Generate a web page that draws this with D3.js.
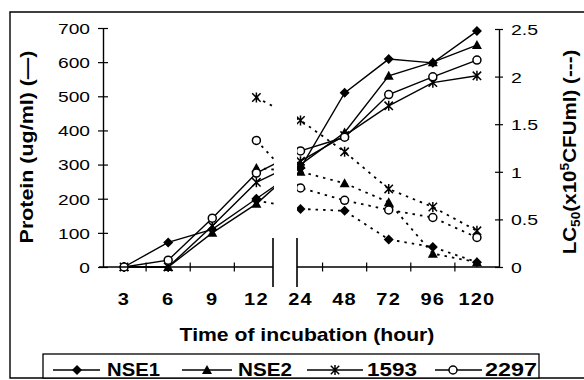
<!DOCTYPE html>
<html><head><meta charset="utf-8">
<script src="https://cdn.jsdelivr.net/npm/d3@7"></script>
<style>body{margin:0;background:#fff}svg{display:block}</style>
</head><body>
<script>
// ---- data ----
const categories = ["3","6","9","12","24","48","72","96","120"];
const seriesNames = ["NSE1","NSE2","1593","2297"];
const proteinNSE1 = [0, 72, 110, 200, 290, 510, 609, 598, 691];
const proteinNSE2 = [0, 0, 100, 185, 300, 394, 560, 600, 650];
const protein1593 = [0, 0, 120, 248, 310, 385, 472, 540, 560];
const protein2297 = [0, 20, 143, 275, 340, 380, 505, 557, 606];
const lc50NSE1 = [null, null, null, 0.70, 0.61, 0.59, 0.29, 0.21, 0.05];
const lc50NSE2 = [null, null, null, 1.04, 1.00, 0.88, 0.68, 0.14, 0.05];
const lc501593 = [null, null, null, 1.78, 1.54, 1.21, 0.82, 0.63, 0.38];
const lc502297 = [null, null, null, 1.33, 0.83, 0.70, 0.60, 0.52, 0.31];
const proteinTicks = [0, 100, 200, 300, 400, 500, 600, 700];
const lcTicks = [0, 0.5, 1, 1.5, 2, 2.5];
const lcTickLabels = ["0", "0.5", "1", "1.5", "2", "2.5"];

const proteinSeries = [proteinNSE1, proteinNSE2, protein1593, protein2297];
const lcSeries = [lc50NSE1, lc50NSE2, lc501593, lc502297];
const markerTypes = ["diamond", "triangle", "asterisk", "circle"];

// ---- layout ----
const W = 584, H = 380;
const FONT = "'Liberation Sans', Arial, sans-serif";
const svg = d3.select("body").append("svg").attr("width", W).attr("height", H);

const x = d3.scaleBand().domain(categories).range([102, 499]).padding(0);
const cx = c => x(c) + x.bandwidth() / 2;
const yL = d3.scaleLinear().domain([0, 700]).range([267, 28]);
const yR = d3.scaleLinear().domain([0, 2.5]).range([267, 29]);
const axisY = 267, leftX = 103, rightX = 499;
const breakL = 273, breakR = 297;

function marker(g, type, px, py) {
  const s = 5;
  if (type === "diamond") {
    g.append("path").attr("d", `M${px},${py - s}L${px + s},${py}L${px},${py + s}L${px - s},${py}Z`)
      .attr("fill", "#000");
  } else if (type === "triangle") {
    g.append("path").attr("d", `M${px},${py - s}L${px + s},${py + 4}L${px - s},${py + 4}Z`)
      .attr("fill", "#000");
  } else if (type === "circle") {
    g.append("circle").attr("cx", px).attr("cy", py).attr("r", 4)
      .attr("fill", "#fff").attr("stroke", "#000").attr("stroke-width", 1.5);
  } else {
    const d = 4.2;
    g.append("path").attr("d",
      `M${px},${py - s}V${py + s}M${px - d},${py - d}L${px + d},${py + d}M${px - d},${py + d}L${px + d},${py - d}`)
      .attr("stroke", "#000").attr("stroke-width", 1.5).attr("fill", "none");
  }
}

function fitText(sel, base, w) {
  const L = sel.node().getComputedTextLength();
  sel.attr("transform", `${base} scale(${w / L},1)`);
}

// outer frame
svg.append("path").attr("d", `M${W + 5},12H10V378H${W + 5}`)
  .attr("fill", "none").attr("stroke", "#000").attr("stroke-width", 1.4);

// ---- series ----
const plot = svg.append("g");
const lineL = d3.line().defined(d => d.v != null).x(d => cx(d.c)).y(d => yL(d.v));
const lineR = d3.line().defined(d => d.v != null).x(d => cx(d.c)).y(d => yR(d.v));

lcSeries.forEach(arr => {
  plot.append("path").datum(categories.map((c, i) => ({c, v: arr[i]})))
    .attr("d", lineR).attr("fill", "none").attr("stroke", "#000")
    .attr("stroke-width", 1.8).attr("stroke-dasharray", "2.5,5");
});
proteinSeries.forEach(arr => {
  plot.append("path").datum(categories.map((c, i) => ({c, v: arr[i]})))
    .attr("d", lineL).attr("fill", "none").attr("stroke", "#000").attr("stroke-width", 1.4);
});
lcSeries.forEach((arr, k) => {
  categories.forEach((c, i) => { if (arr[i] != null) marker(plot, markerTypes[k], cx(c), yR(arr[i])); });
});
proteinSeries.forEach((arr, k) => {
  categories.forEach((c, i) => marker(plot, markerTypes[k], cx(c), yL(arr[i])));
});

// axis break (white band)
svg.append("rect").attr("x", breakL + 1).attr("y", 20).attr("width", breakR - breakL - 1)
  .attr("height", 262).attr("fill", "#fff");

// ---- x axis ----
const gx = svg.append("g");
gx.append("path").attr("d", `M${leftX - 4},${axisY}H${breakL}M${breakR},${axisY}H${rightX}`)
  .attr("stroke", "#000").attr("stroke-width", 1.4).attr("fill", "none");
categories.forEach((c, i) => {
  if (i === 0 || i === 4) return;
  gx.append("line").attr("x1", x(c)).attr("x2", x(c)).attr("y1", axisY - 4.5).attr("y2", axisY + 4.5)
    .attr("stroke", "#000").attr("stroke-width", 1.2);
});
gx.append("path").attr("d", `M${breakL},238V287M${breakR},238V287`)
  .attr("stroke", "#000").attr("stroke-width", 1.6);

const xAxis = svg.append("g").attr("transform", `translate(0,${axisY})`)
  .call(d3.axisBottom(x).tickSize(0).tickPadding(0));
xAxis.select(".domain").remove();
xAxis.selectAll(".tick text")
  .attr("y", 0).attr("dy", 0)
  .attr("font-family", FONT).attr("font-weight", "bold").attr("font-size", 16)
  .attr("letter-spacing", 1).attr("fill", "#000")
  .attr("transform", "translate(0,38) scale(1.25,1)");

// ---- left axis ----
const yAxisL = svg.append("g").attr("transform", `translate(${leftX},0)`)
  .call(d3.axisLeft(yL).tickValues(proteinTicks).tickSizeInner(5).tickSizeOuter(0));
yAxisL.select(".domain").attr("stroke-width", 1.4);
yAxisL.selectAll(".tick line").attr("x1", 5).attr("x2", -5).attr("stroke-width", 1.2);
yAxisL.selectAll(".tick text")
  .attr("x", 0).attr("dy", "0.36em")
  .attr("font-family", FONT).attr("font-size", 15).attr("fill", "#000")
  .attr("transform", "translate(-13,0) scale(1.28,1)");

// ---- right axis ----
const yAxisR = svg.append("g").attr("transform", `translate(${rightX},0)`)
  .call(d3.axisRight(yR).tickValues(lcTicks).tickFormat((d, i) => lcTickLabels[i]).tickSizeInner(4).tickSizeOuter(0));
yAxisR.select(".domain").attr("stroke-width", 1.4);
yAxisR.selectAll(".tick line").attr("x1", -4).attr("x2", 4).attr("stroke-width", 1.2);
yAxisR.selectAll(".tick text")
  .attr("x", 0).attr("dy", "0.36em")
  .attr("font-family", FONT).attr("font-size", 15).attr("fill", "#000")
  .attr("transform", "translate(12,0) scale(1.3,1)");

// ---- titles ----
const tx = svg.append("text").text("Time of incubation (hour)")
  .attr("font-family", FONT).attr("font-weight", "bold").attr("font-size", 18)
  .attr("text-anchor", "middle").attr("fill", "#000");
fitText(tx, "translate(307,341)", 255);

const tyL = svg.append("text").text("Protein (ug/ml) (\u2014)")
  .attr("font-family", FONT).attr("font-weight", "bold").attr("font-size", 18)
  .attr("text-anchor", "middle").attr("fill", "#000");
fitText(tyL, "translate(33,147) rotate(-90)", 193);

const tyR = svg.append("text")
  .attr("font-family", FONT).attr("font-weight", "bold").attr("font-size", 18)
  .attr("text-anchor", "middle").attr("fill", "#000");
tyR.append("tspan").text("LC");
tyR.append("tspan").text("50").attr("font-size", 12).attr("dy", 4);
tyR.append("tspan").text("(x10").attr("dy", -4);
tyR.append("tspan").text("5").attr("font-size", 12).attr("dy", -7);
tyR.append("tspan").text("CFUml) (---)").attr("dy", 7);
fitText(tyR, "translate(576,152) rotate(-90)", 205);

// ---- legend ----
const lg = svg.append("g");
lg.append("rect").attr("x", 43).attr("y", 354).attr("width", 496).attr("height", 24)
  .attr("fill", "#fff").attr("stroke", "#000").attr("stroke-width", 1.3);
const legendItems = [
  {x1: 53, x2: 100, m: 77, t: 107, w: 53},
  {x1: 182, x2: 232, m: 207, t: 238, w: 54},
  {x1: 307, x2: 363, m: 335, t: 367, w: 50},
  {x1: 435, x2: 482, m: 453, t: 485, w: 52}
];
seriesNames.forEach((name, k) => {
  const it = legendItems[k];
  lg.append("line").attr("x1", it.x1).attr("x2", it.x2).attr("y1", 370).attr("y2", 370)
    .attr("stroke", "#000").attr("stroke-width", 1.4);
  marker(lg, markerTypes[k], it.m, 370);
  const t = lg.append("text").text(name)
    .attr("font-family", FONT).attr("font-weight", "bold").attr("font-size", 18).attr("fill", "#000");
  fitText(t, `translate(${it.t},376)`, it.w);
});
</script>
</body></html>
